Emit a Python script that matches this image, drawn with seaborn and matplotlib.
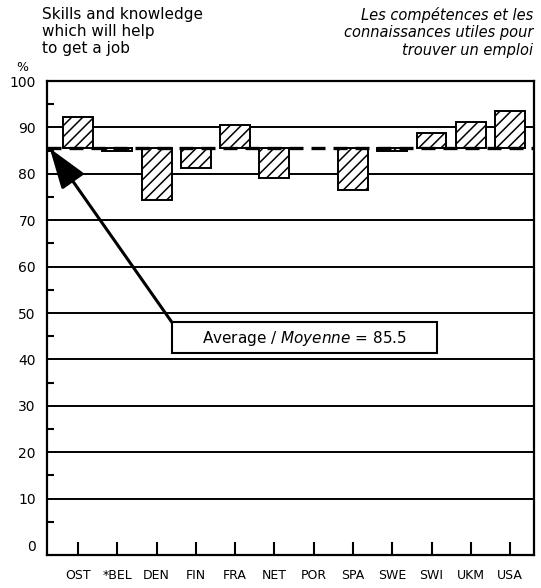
import seaborn as sns
import matplotlib.pyplot as plt
from matplotlib.patches import Rectangle
import numpy as np

countries = ["OST", "*BEL", "DEN", "FIN", "FRA", "NET", "POR", "SPA", "SWE", "SWI", "UKM", "USA"]
values = [92.2, 85.0, 74.3, 81.3, 90.5, 79.1, np.nan, 76.5, 85.0, 88.9, 91.1, 93.5]
average = 85.5
y_ticks = [0, 10, 20, 30, 40, 50, 60, 70, 80, 90, 100]

sns.set_style("white")
plt.rcParams["font.family"] = ["DejaVu Sans"]
plt.rcParams["hatch.linewidth"] = 1.1
plt.rcParams["text.color"] = "black"
plt.rcParams["xtick.color"] = "black"
plt.rcParams["ytick.color"] = "black"
plt.rcParams["axes.labelcolor"] = "black"

fig = plt.figure(figsize=(5.41, 5.88), dpi=100)
ax = fig.add_axes([0.0869, 0.0561, 0.9002, 0.8061])

dev = [v - average for v in values]
sns.barplot(x=countries, y=dev, order=countries, ax=ax, width=0.76,
            bottom=average, color="white", edgecolor="black", linewidth=1.4,
            hatch="///", zorder=3)

ax.axhline(average, color="black", lw=2.4, ls=(0, (4.2, 2.4)), zorder=4)

ax.set_xlim(-0.79, 11.61)
ax.set_ylim(-2.15, 100)
ax.set_yticks(y_ticks)
ax.set_yticks(np.arange(5, 100, 10), minor=True)
ax.yaxis.grid(True, color="black", lw=1.4)
ax.get_ygridlines()[0].set_visible(False)
ax.set_axisbelow(True)

ax.tick_params(axis="y", which="major", length=0, pad=8, labelsize=10, labelcolor="black")
ax.tick_params(axis="y", which="minor", direction="in", length=5, width=1.5, left=True, color="black")
ax.tick_params(axis="x", direction="in", length=9.5, width=1.5, bottom=True, pad=10,
               labelsize=9, color="black", labelcolor="black")
ax.set_xlabel("")
for s in ax.spines.values():
    s.set_visible(True)
    s.set_color("black")
    s.set_linewidth(1.6)

# average annotation
ax.add_patch(Rectangle((2.39, 41.3), 6.74, 6.7, facecolor="white", edgecolor="black",
                       lw=1.5, zorder=5))
ax.text(5.76, 44.6, "Average / $\\it{Moyenne}$ = 85.5", ha="center", va="center",
        fontsize=11, color="black", zorder=6)
ax.annotate("", xy=(-0.72, average), xytext=(2.39, 48.0),
            arrowprops=dict(arrowstyle="-|>,head_length=2.5,head_width=0.85",
                            lw=2.2, color="black", shrinkA=0, shrinkB=0), zorder=6)

fig.text(0.078, 0.988, "Skills and knowledge\nwhich will help\nto get a job",
         ha="left", va="top", fontsize=11, linespacing=1.15, color="black")
fig.text(0.985, 0.988, "Les compétences et les\nconnaissances utiles pour\ntrouver un emploi",
         ha="right", va="top", fontsize=10.5, style="italic", linespacing=1.2,
         multialignment="right", color="black")
fig.text(0.03, 0.885, "%", ha="left", va="center", fontsize=9, color="black")

fig.savefig("out.png", dpi=100)
